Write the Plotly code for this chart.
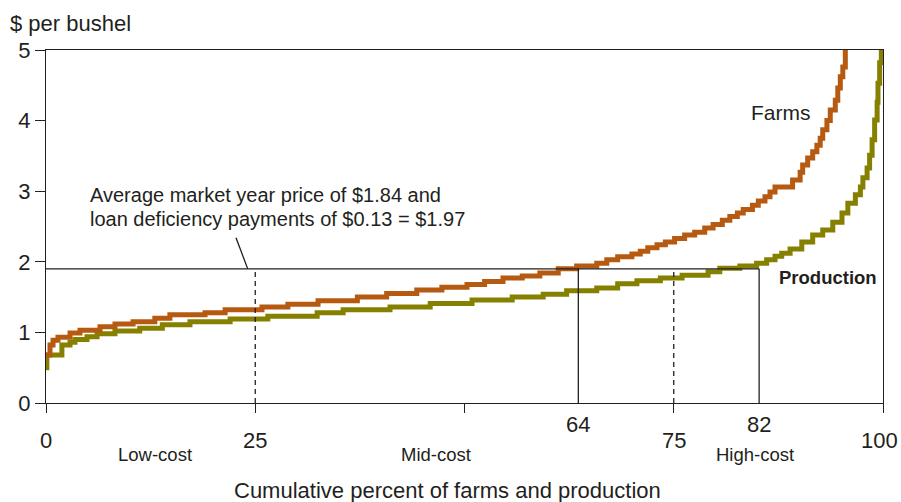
import plotly.graph_objects as go

# ---- data ----
farms_x = [0, 0.48, 0.84, 1.43, 2.87, 4.06, 6.45, 8.24, 10.4, 13.0, 14.8, 19.0, 21.4, 25.8, 28.9,
           32.5, 37.2, 40.7, 44.3, 47.3, 50.3, 52.4, 54.6, 56.9, 59.0, 61.2, 63.4, 65.8, 67.0, 68.3,
           70.0, 71.0, 71.9, 73.0, 74.0, 75.1, 76.3, 77.5, 78.7, 79.7, 80.8, 81.7, 82.6, 83.3, 84.4,
           85.1, 85.9, 86.5, 87.1, 89.2, 90.1, 90.4, 91.0, 91.6, 92.1, 92.5, 92.8, 93.3, 93.7, 94.3,
           94.6, 94.9, 95.2, 95.5]
farms_y = [0.68, 0.82, 0.89, 0.93, 0.99, 1.03, 1.08, 1.12, 1.15, 1.20, 1.25, 1.28, 1.32, 1.36, 1.40,
           1.45, 1.50, 1.55, 1.60, 1.64, 1.68, 1.72, 1.77, 1.80, 1.84, 1.90, 1.94, 1.98, 2.03, 2.07,
           2.11, 2.15, 2.20, 2.24, 2.28, 2.33, 2.38, 2.42, 2.48, 2.53, 2.59, 2.64, 2.69, 2.74, 2.80,
           2.86, 2.92, 2.99, 3.06, 3.16, 3.27, 3.37, 3.47, 3.56, 3.65, 3.75, 3.87, 4.00, 4.15, 4.29,
           4.46, 4.62, 4.76, 5.05]

prod_x = [0, 0.1, 1.9, 2.87, 3.46, 4.9, 6.1, 8.24, 11.2, 13.9, 17.2, 22.0, 26.5, 32.4, 35.5, 41.1,
          45.9, 50.9, 55.7, 59.4, 62.2, 65.8, 68.3, 70.6, 73.4, 76.0, 79.1, 80.5, 82.9, 84.9, 86.1,
          87.1, 87.9, 88.9, 90.3, 91.6, 92.8, 94.0, 95.1, 95.8, 96.7, 97.3, 97.6, 98.1, 98.4, 98.7,
          99.0, 99.3, 99.4, 99.6, 99.8]
prod_y = [0.50, 0.68, 0.82, 0.86, 0.90, 0.94, 0.98, 1.02, 1.06, 1.11, 1.15, 1.19, 1.23, 1.28, 1.32, 1.36,
          1.41, 1.46, 1.50, 1.54, 1.59, 1.63, 1.69, 1.73, 1.77, 1.81, 1.86, 1.91, 1.94, 1.98, 2.03,
          2.08, 2.12, 2.18, 2.28, 2.38, 2.45, 2.56, 2.69, 2.83, 2.95, 3.06, 3.19, 3.33, 3.51, 3.73,
          4.01, 4.26, 4.53, 4.82, 5.05]

price_level = 1.9
marker_x = [25, 63.6, 75, 85.2]
marker_labels = ["25", "64", "75", "82"]
marker_dash = ["dash", "solid", "dash", "solid"]
y_ticks = [0, 1, 2, 3, 4, 5]
x_ticks = [0, 25, 50, 75, 100]
segment_labels = ["Low-cost", "Mid-cost", "High-cost"]
segment_x = [13.0, 46.6, 84.7]

DARK = "#231f20"
FONT = "Liberation Sans, Arial, Helvetica, sans-serif"
ORANGE = "#B65A12"
OLIVE = "#858000"

fig = go.Figure()
fig.add_trace(go.Scatter(x=prod_x, y=prod_y, mode="lines", line=dict(color=OLIVE, width=5, shape="hv"),
                         name="Production", showlegend=False, hoverinfo="skip"))
fig.add_trace(go.Scatter(x=farms_x, y=farms_y, mode="lines", line=dict(color=ORANGE, width=5, shape="hv"),
                         name="Farms", showlegend=False, hoverinfo="skip"))

# reference lines
fig.add_shape(type="line", x0=0, x1=marker_x[-1], y0=price_level, y1=price_level,
              line=dict(color=DARK, width=1.3), xref="x", yref="y")
for mx, d in zip(marker_x, marker_dash):
    fig.add_shape(type="line", x0=mx, x1=mx, y0=0, y1=price_level,
                  line=dict(color=DARK, width=1.3, dash="5px,4px" if d == "dash" else "solid"),
                  xref="x", yref="y")
# pointer
fig.add_shape(type="line", x0=22.7, y0=2.34, x1=24.1, y1=price_level,
              line=dict(color=DARK, width=1.3), xref="x", yref="y")

ann = []
def add(text, x, y, size, xref="x", yref="y", xanchor="center", bold=False):
    ann.append(dict(text=("<b>%s</b>" % text) if bold else text, x=x, y=y, xref=xref, yref=yref,
                    xanchor=xanchor, yanchor="middle", showarrow=False,
                    font=dict(family=FONT, size=size, color=DARK)))

add("Average market year price of $1.84 and", 5.0, 2.95, 20, xanchor="left")
add("loan deficiency payments of $0.13 = $1.97", 5.0, 2.61, 20, xanchor="left")
add("Farms", 87.8, 4.12, 21)
add("Production", 93.4, 1.78, 18.5, bold=True)

# x tick labels (staggered)
add("0", 0, -0.105, 22, yref="paper")
add("100", 99.6, -0.105, 22, yref="paper")
for mx, lab in zip(marker_x, marker_labels):
    yy = -0.0595 if lab in ("64", "82") else -0.105
    add(lab, mx, yy, 22, yref="paper")
for sx, sl in zip(segment_x, segment_labels):
    add(sl, sx, -0.147, 18.5, yref="paper")
add("Cumulative percent of farms and production", 47.95, -0.249, 22, yref="paper")
add("$ per bushel", -0.0455, 1.075, 22, xref="paper", yref="paper", xanchor="left")

fig.update_layout(
    width=901, height=502,
    margin=dict(l=46, r=18, t=50, b=99),
    paper_bgcolor="white", plot_bgcolor="white",
    annotations=ann,
    xaxis=dict(range=[0, 100], tickvals=x_ticks, showticklabels=False, ticks="outside", ticklen=9,
               tickcolor=DARK, tickwidth=1.3, showgrid=False, zeroline=False, showline=True, mirror=True,
               linecolor=DARK, linewidth=1.3),
    yaxis=dict(range=[0, 5], tickvals=y_ticks, ticks="outside", ticklen=10, tickcolor=DARK, tickwidth=1.3,
               tickfont=dict(family=FONT, size=22, color=DARK), showgrid=False, zeroline=False,
               showline=True, mirror=True, linecolor=DARK, linewidth=1.3),
    font=dict(family=FONT, color=DARK),
)

fig.write_html("out.html", config={"displayModeBar": False},
               post_script="document.body.style.margin='0';document.body.style.padding='0';")
